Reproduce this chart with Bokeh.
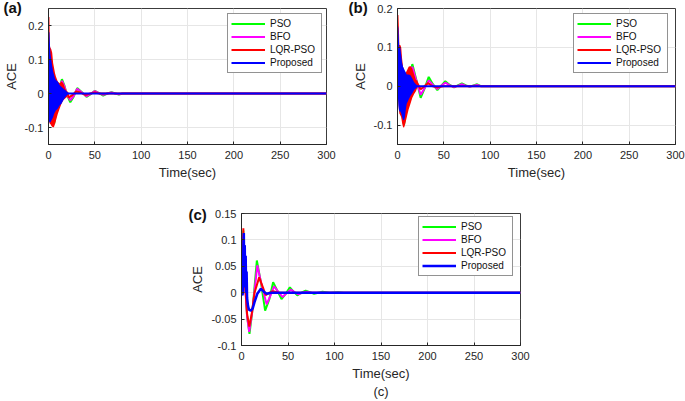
from bokeh.plotting import figure
from bokeh.models import Range1d, FixedTicker, Legend, LegendItem, Title, Spacer, LinearAxis
from bokeh.layouts import column, row
from bokeh.embed import file_html
from bokeh.resources import INLINE

# ---------------- data ----------------
x_ticks = [0, 50, 100, 150, 200, 250, 300]
x_tick_labels = ["0", "50", "100", "150", "200", "250", "300"]
ab_y_ticks = [-0.1, 0, 0.1, 0.2]
ab_y_tick_labels = ["-0.1", "0", "0.1", "0.2"]
c_y_ticks = [-0.1, -0.05, 0, 0.05, 0.1, 0.15]
c_y_tick_labels = ["-0.1", "-0.05", "0", "0.05", "0.1", "0.15"]
series_names = ["PSO", "BFO", "LQR-PSO", "Proposed"]

# panel (a): dense oscillation envelopes (0-22 s) + damped tails
a_band_t = [0, 0.5, 1, 1.5, 2, 3, 4, 5, 6, 7, 8, 10, 12, 14, 16, 18, 20, 22]
a_lqr_hi = [0.14, 0.225, 0.225, 0.14, 0.135, 0.13, 0.12, 0.09, 0.075, 0.06, 0.05, 0.035, 0.03, 0.035, 0.03, 0.015, 0.005, 0]
a_lqr_lo = [-0.06, -0.08, -0.085, -0.09, -0.09, -0.095, -0.098, -0.1, -0.098, -0.09, -0.08, -0.06, -0.045, -0.03, -0.02, -0.015, -0.01, 0]
a_prop_hi = [0.14, 0.18, 0.18, 0.15, 0.12, 0.1, 0.08, 0.065, 0.055, 0.045, 0.04, 0.035, 0.025, 0.02, 0.015, 0.01, 0.005, 0]
a_prop_lo = [-0.03, -0.08, -0.085, -0.085, -0.085, -0.08, -0.075, -0.07, -0.06, -0.055, -0.05, -0.045, -0.035, -0.03, -0.02, -0.012, -0.005, 0]
a_osc_t = [0, 2, 4, 6, 8, 10, 12, 14.5, 17, 20, 23.5, 27, 31, 36, 41, 45.5, 50, 54.5, 59, 63.5, 68, 72, 76, 80, 300]
a_pso = [0, 0.1, -0.05, -0.09, -0.06, -0.02, 0.02, 0.042, 0.025, -0.005, -0.026, -0.01, 0.016, 0.004, -0.01, -0.002, 0.008, 0.001, -0.006, 0, 0.004, 0, -0.003, 0, 0]
a_bfo = [0, 0.1, -0.05, -0.085, -0.055, -0.02, 0.018, 0.037, 0.022, -0.004, -0.02, -0.008, 0.014, 0.003, -0.008, -0.001, 0.007, 0.001, -0.004, 0, 0.003, 0, -0.002, 0, 0]
a_lqr_t = [20, 22, 26, 30, 35, 40, 45, 50, 55, 60, 300]
a_lqr = [0.005, -0.012, -0.004, 0.006, 0.002, -0.004, 0, 0.003, 0, 0, 0]
a_prop_t = [0, 22, 300]
a_prop = [0, 0, 0]

# panel (b)
b_band_t = [0, 0.5, 1, 1.5, 2, 3, 4, 5, 6, 7, 8, 9, 10, 12, 14, 16, 18, 20, 22]
b_lqr_hi = [0.12, 0.183, 0.183, 0.15, 0.106, 0.106, 0.1, 0.07, 0.05, 0.04, 0.03, 0.035, 0.04, 0.05, 0.052, 0.045, 0.03, 0.015, 0]
b_lqr_lo = [-0.01, -0.02, -0.04, -0.06, -0.07, -0.075, -0.08, -0.095, -0.105, -0.107, -0.1, -0.09, -0.08, -0.06, -0.045, -0.03, -0.02, -0.012, 0]
b_prop_hi = [0.1, 0.156, 0.15, 0.12, 0.1, 0.1, 0.08, 0.06, 0.05, 0.045, 0.04, 0.035, 0.03, 0.03, 0.028, 0.02, 0.01, 0.005, 0]
b_prop_lo = [-0.01, -0.03, -0.05, -0.06, -0.065, -0.065, -0.07, -0.08, -0.086, -0.088, -0.08, -0.06, -0.045, -0.035, -0.025, -0.018, -0.01, -0.005, 0]
b_osc_t = [0, 2, 4, 7, 10, 13, 16, 20.5, 25, 29.5, 33.7, 38, 43, 47, 51.6, 56, 61, 65, 69.5, 74, 78, 82, 86, 90, 300]
b_pso = [0, 0.1, -0.06, -0.1, -0.05, 0.02, 0.057, 0.015, -0.03, -0.004, 0.024, 0.006, -0.01, 0.001, 0.013, 0.004, -0.003, 0.002, 0.007, 0.002, -0.001, 0.002, 0.005, 0, 0]
b_bfo = [0, 0.1, -0.06, -0.095, -0.05, 0.018, 0.05, 0.012, -0.022, -0.004, 0.015, 0.004, -0.007, 0.001, 0.009, 0.003, -0.002, 0.001, 0.005, 0.001, -0.001, 0.001, 0.003, 0, 0]
b_lqr_t = [20, 22, 25, 29, 33, 38, 43, 50, 300]
b_lqr = [0.015, 0.005, -0.008, 0, 0.008, 0, -0.003, 0, 0]
b_prop_t = [0, 22, 300]
b_prop = [0, 0, 0]

# panel (c)
c_pso_t = [0, 1, 1.5, 2, 2.5, 3, 4, 6, 8.6, 12, 16.5, 21, 25.4, 30, 34, 38.5, 43, 47.5, 52, 56, 60, 64.5, 69, 73.5, 78, 82.5, 87, 95, 104, 110, 300]
c_pso = [0, 0.08, 0.03, 0.118, 0.05, 0.09, 0.02, -0.045, -0.078, -0.03, 0.061, 0.018, -0.034, -0.012, 0.02, 0.004, -0.012, -0.002, 0.01, 0.002, -0.005, 0, 0.004, 0.001, -0.002, 0, 0.002, 0, 0.001, 0, 0]
c_bfo_t = [0, 1, 1.5, 2, 2.5, 3, 4, 6, 8.3, 12, 17, 22, 27, 31, 35, 39.5, 44, 48.5, 53, 57, 61, 65.5, 70, 75, 300]
c_bfo = [0, 0.07, 0.02, 0.11, 0.04, 0.08, 0.01, -0.045, -0.074, -0.03, 0.052, 0.012, -0.022, -0.006, 0.012, 0.002, -0.008, -0.001, 0.006, 0.001, -0.003, 0, 0.002, 0, 0]
c_lqr_t = [0, 1, 1.5, 2, 2.5, 3, 3.5, 4.5, 6, 8.4, 11, 14, 19, 23, 26, 30, 34, 40, 300]
c_lqr = [0, 0.08, 0.04, 0.122, 0.03, 0.09, 0.02, 0.0, -0.04, -0.064, -0.04, 0.0, 0.029, 0.01, -0.0045, 0.0, 0.003, 0, 0]
c_prop_t = [0, 1, 1.5, 2, 2.5, 3, 3.5, 4, 4.5, 5, 5.5, 6, 7, 8, 10, 12, 14, 17, 20.8, 24, 27, 32, 300]
c_prop = [0, -0.005, 0.0, 0.09, 0.113, 0.02, 0.09, 0.01, 0.07, 0.0, 0.04, -0.01, -0.025, -0.032, -0.034, -0.03, -0.018, -0.002, 0.0073, 0.002, -0.002, 0, 0]

# ---------------- styling ----------------
FONT = "Liberation Sans"
DARK = "#262626"
COLORS = {"PSO": "#00ff00", "BFO": "#ff00ff", "LQR-PSO": "#ff0000", "Proposed": "#0000ff"}
LW = 2


def make_fig(width, height, ylim, yticks, ylabels, bl, br, bt, bb, letter, letter_offset, letter_standoff):
    title = Title(text=letter, align="left", offset=letter_offset, standoff=letter_standoff,
                  text_font=FONT, text_font_size="15px", text_font_style="bold",
                  text_color="#111111")
    p = figure(width=width, height=height, x_range=Range1d(0, 300), y_range=Range1d(*ylim),
               output_backend="svg", toolbar_location=None, title=title,
               min_border_left=bl, min_border_right=br, min_border_top=bt, min_border_bottom=bb)
    p.background_fill_color = "white"
    p.border_fill_color = "white"
    p.outline_line_color = "#3c3c3c"
    p.outline_line_width = 1
    p.xaxis.ticker = FixedTicker(ticks=x_ticks)
    p.yaxis.ticker = FixedTicker(ticks=yticks)
    p.xaxis.major_label_overrides = {t: s for t, s in zip(x_ticks, x_tick_labels)}
    p.yaxis.major_label_overrides = {t: s for t, s in zip(yticks, ylabels)}
    for ax in (p.xaxis[0], p.yaxis[0]):
        ax.axis_line_color = DARK
        ax.major_tick_line_color = DARK
        ax.major_tick_in = 3
        ax.major_tick_out = 0
        ax.minor_tick_line_color = None
        ax.major_label_text_font = FONT
        ax.major_label_text_font_size = "11px"
        ax.major_label_text_color = DARK
        ax.axis_label_text_font = FONT
        ax.axis_label_text_font_size = "13px"
        ax.axis_label_text_font_style = "normal"
        ax.axis_label_text_color = DARK
    p.xaxis.axis_label = "Time(sec)"
    p.yaxis.axis_label = "ACE"
    p.xaxis.major_label_standoff = 6
    p.xaxis.axis_label_standoff = 3
    p.yaxis.major_label_standoff = 5
    p.yaxis.axis_label_standoff = 3
    p.grid.grid_line_color = "#e6e6e6"
    p.grid.grid_line_width = 1
    return p


def add_legend(p, renderers, loc):
    items = [LegendItem(label=n, renderers=[r]) for n, r in zip(series_names, renderers)]
    lg = Legend(items=items, location=loc, orientation="vertical")
    lg.label_text_font = FONT
    lg.label_text_font_size = "10px"
    lg.label_text_color = "#111111"
    lg.label_height = 13
    lg.glyph_height = 13
    lg.glyph_width = 34
    lg.label_width = 48
    lg.label_standoff = 5
    lg.spacing = 0
    lg.padding = 3
    lg.margin = 0
    lg.border_line_color = DARK
    lg.border_line_width = 1
    lg.background_fill_color = "white"
    lg.background_fill_alpha = 1
    p.add_layout(lg, "center")


# ---- panel (a): canvas 0..340 x 0..190, frame 45..326 x 5..144
pa = make_fig(340, 190, (-0.15, 0.25), ab_y_ticks, ab_y_tick_labels, 45, 14, 5, 46, "(a)", -45, -14)
r1 = pa.line(a_osc_t, a_pso, line_color=COLORS["PSO"], line_width=LW)
r2 = pa.line(a_osc_t, a_bfo, line_color=COLORS["BFO"], line_width=LW)
pa.varea(x=a_band_t, y1=a_lqr_lo, y2=a_lqr_hi, fill_color=COLORS["LQR-PSO"])
r3 = pa.line(a_lqr_t, a_lqr, line_color=COLORS["LQR-PSO"], line_width=LW)
pa.varea(x=a_band_t, y1=a_prop_lo, y2=a_prop_hi, fill_color=COLORS["Proposed"])
r4 = pa.line(a_prop_t, a_prop, line_color=COLORS["Proposed"], line_width=LW)
add_legend(pa, [r1, r2, r3, r4], (179, 71))

# ---- panel (b): canvas 340..685 x 0..190, frame 397..675 x 8..144
pb = make_fig(345, 190, (-0.15, 0.2), ab_y_ticks, ab_y_tick_labels, 57, 10, 8, 46, "(b)", -49, -14)
s1 = pb.line(b_osc_t, b_pso, line_color=COLORS["PSO"], line_width=LW)
s2 = pb.line(b_osc_t, b_bfo, line_color=COLORS["BFO"], line_width=LW)
pb.varea(x=b_band_t, y1=b_lqr_lo, y2=b_lqr_hi, fill_color=COLORS["LQR-PSO"])
s3 = pb.line(b_lqr_t, b_lqr, line_color=COLORS["LQR-PSO"], line_width=LW)
pb.varea(x=b_band_t, y1=b_prop_lo, y2=b_prop_hi, fill_color=COLORS["Proposed"])
s4 = pb.line(b_prop_t, b_prop, line_color=COLORS["Proposed"], line_width=LW)
add_legend(pb, [s1, s2, s3, s4], (176, 71))

# ---- panel (c): canvas 180..540 x 190..401, frame 241..520 x 213..349
pc = make_fig(360, 211, (-0.1, 0.15), c_y_ticks, c_y_tick_labels, 61, 20, 23, 52, "(c)", -53, -18)
u1 = pc.line(c_pso_t, c_pso, line_color=COLORS["PSO"], line_width=LW)
u2 = pc.line(c_bfo_t, c_bfo, line_color=COLORS["BFO"], line_width=LW)
u3 = pc.line(c_lqr_t, c_lqr, line_color=COLORS["LQR-PSO"], line_width=LW)
u4 = pc.line(c_prop_t, c_prop, line_color=COLORS["Proposed"], line_width=2.5)
add_legend(pc, [u1, u2, u3, u4], (177, 69))

# caption "(c)" under the bottom panel as an extra, tick-less axis
cap = LinearAxis(ticker=FixedTicker(ticks=[]), axis_label="(c)", axis_line_color=None,
                 major_tick_line_color=None, minor_tick_line_color=None,
                 major_label_text_font_size="0px", axis_label_standoff=0,
                 axis_label_text_font=FONT, axis_label_text_font_size="13px",
                 axis_label_text_font_style="normal", axis_label_text_color=DARK)
pc.add_layout(cap, "below")

layout = column(row(pa, pb), row(Spacer(width=180, height=211), pc))

with open("out.html", "w") as f:
    f.write(file_html(layout, INLINE))
